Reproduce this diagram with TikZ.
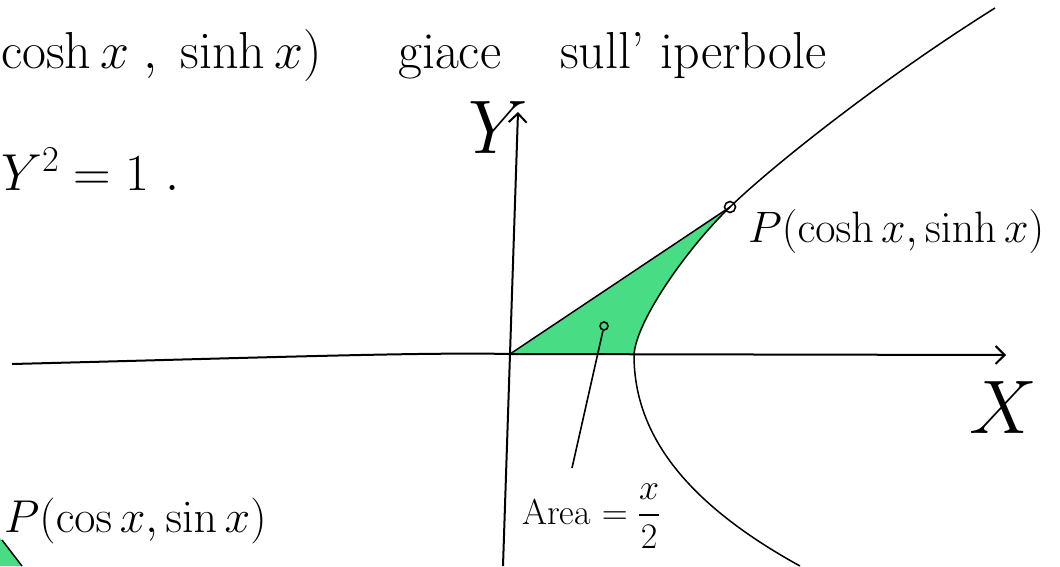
\RequirePackage{fix-cm}
\documentclass[tikz,border=0pt]{standalone}
\usepackage{xcolor}
\usepackage{tikz}
\usetikzlibrary{arrows.meta,positioning,calc}
\usepackage{amsmath}
\usepackage{amssymb}
\definecolor{areagreen}{RGB}{72,221,132}

\begin{document}
\begin{tikzpicture}[
    x=1pt, y=-1pt,
    >={Straight Barb[length=9pt,width=18pt]},
    axis/.style={->, line width=2pt},
    curve/.style={line width=1.5pt},
    bigtxt/.style={inner sep=0pt, anchor=base west,
        font=\fontsize{52}{58}\selectfont},
    axlbl/.style={inner sep=0pt, font=\fontsize{76}{80}\selectfont},
    ptlbl/.style={inner sep=0pt, anchor=base west,
        font=\fontsize{44}{50}\selectfont},
    dot/.style={draw, circle, line width=1.6pt, minimum size=11pt, inner sep=0pt},
    pointer/.style={line width=1.6pt}
]
\clip (0,0) rectangle (1060,566);
\coordinate (O) at (510,354);
\coordinate (V) at (634,355);
\coordinate (P) at (730,207);
\coordinate (xl) at (12,364);
\coordinate (xr) at (1006,355);
\coordinate (yb) at (503,566);
\coordinate (yt) at (518,112);
\coordinate (htop) at (995,8);
\coordinate (hbot) at (800,566);

% area of the hyperbolic sector
\fill[areagreen] (O) -- (P) .. controls (690,245) and (636,320) .. (V) -- cycle;
% piece of the circular sector, bottom left
\fill[areagreen] (0,538) -- (22,566) -- (0,566) -- cycle;
\draw[curve] (2,540) -- (22,566);

% axes
\draw[axis] (xl) .. controls (250,358) and (420,352) .. (O) -- (xr);
\draw[axis] (yb) -- (yt);
\node[axlbl] (ylbl) at (498,128) {$Y$};
\node[axlbl] (xlbl) at (1003,408) {$X$};

% hyperbola
\draw[curve] (htop) .. controls (880,80) and (770,168) .. (P)
    .. controls (690,245) and (636,320) .. (V)
    .. controls (634,430) and (680,500) .. (hbot);
\draw[curve] (O) -- (P);
\node[dot] (Pdot) at (P) {};
\node[ptlbl] (Plbl) at (748,242) {$P(\cosh x, \sinh x)$};

% area pointer
\node[dot, minimum size=8pt] (adot) at (604,326) {};
\coordinate (atip) at (572,468);
\draw[pointer] (adot) -- (atip);
\node[inner sep=0pt, anchor=base west, font=\fontsize{36}{40}\selectfont]
    (area) at (522,524) {Area $=\dfrac{x}{2}$};

% text
\node[bigtxt] (ttl) at (1,68) {$\cosh x\;,\;\sinh x)$};
\node[bigtxt] (giace) at (398,68) {giace};
\node[bigtxt] (sull) at (560,68) {sull' iperbole};
\node[bigtxt] (eq) at (1,190) {$Y^2 = 1\ .$};
\node[ptlbl, font=\fontsize{46}{52}\selectfont] (Qlbl) at (4,532) {$P(\cos x, \sin x)$};
\useasboundingbox (0,0) rectangle (1060,566);
\end{tikzpicture}
\end{document}
